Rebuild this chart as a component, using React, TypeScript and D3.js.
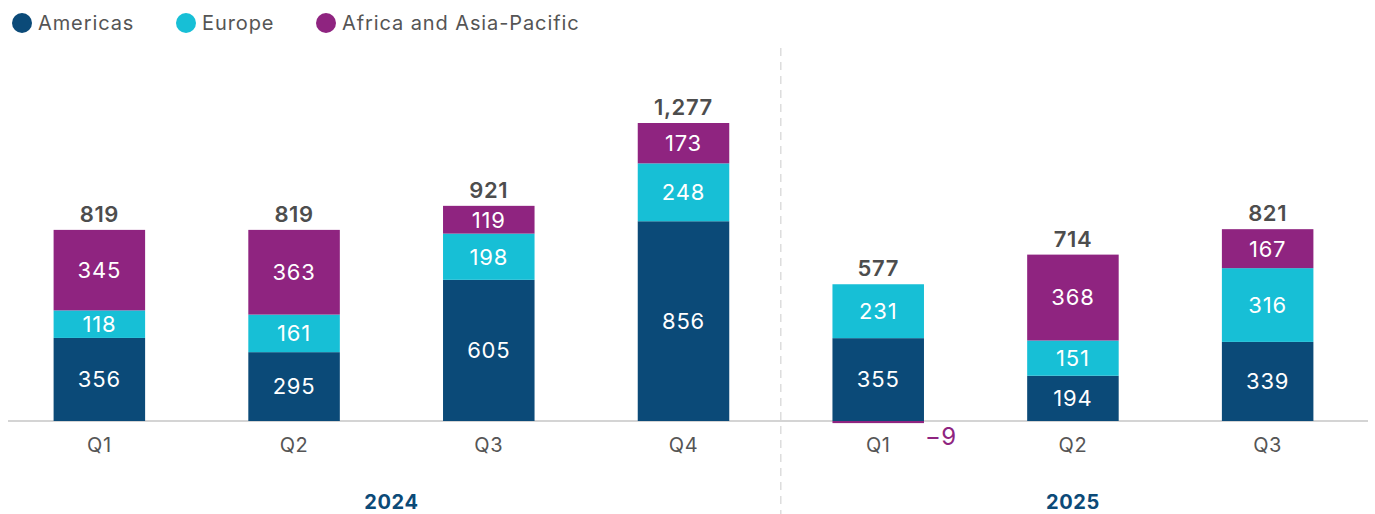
import React from 'react';
import * as d3 from 'd3';

// categories and series
const years = ['2024', '2024', '2024', '2024', '2025', '2025', '2025'];
const quarters = ['Q1', 'Q2', 'Q3', 'Q4', 'Q1', 'Q2', 'Q3'];
const americas = [356, 295, 605, 856, 355, 194, 339];
const europe = [118, 161, 198, 248, 231, 151, 316];
const africaAsiaPacific = [345, 363, 119, 173, -9, 368, 167];
// totals as printed (source values are unrounded)
const totalLabels = [819, 819, 921, 1277, 577, 714, 821];

const seriesNames = ['Americas', 'Europe', 'Africa and Asia-Pacific'];
const colors = ['#0b4a78', '#17bfd6', '#8f2480'];

const W = 1375;
const H = 514;
const FONT = 'Inter, "Open Sans", sans-serif';

const App = () => {
  const keys = quarters.map((q, i) => `${years[i]}-${q}`);
  const rows = keys.map((k, i) => ({
    key: k,
    Americas: americas[i],
    Europe: europe[i],
    'Africa and Asia-Pacific': africaAsiaPacific[i],
  }));

  const stack = d3
    .stack<any>()
    .keys(seriesNames)
    .offset(d3.stackOffsetDiverging);
  const layers = stack(rows);

  const x = d3.scaleBand().domain(keys).range([2, 1365]).paddingInner(0.53).paddingOuter(0.265);
  const y = d3.scaleLinear().domain([0, 1277]).range([421, 123]);

  const topOf = (i: number) => d3.max(layers, (l) => l[i][1]) as number;

  const yearGroups = d3.groups(keys.map((k, i) => ({ k, y: years[i] })), (d) => d.y);
  const step = x.step();
  const sepX = (x(keys[3])! + x(keys[4])! + x.bandwidth()) / 2;

  const legendX = [22, 186, 326];

  return (
    <svg width={W} height={H} style={{ position: 'absolute', left: 0, top: 0 }}>
      {/* legend */}
      {seriesNames.map((s, i) => (
        <g key={s}>
          <circle cx={legendX[i]} cy={23} r={10} fill={colors[i]} />
          <text
            x={legendX[i] + 16}
            y={30}
            fontFamily={FONT}
            fontSize={20}
            letterSpacing={0.9}
            fill="#555"
          >
            {s}
          </text>
        </g>
      ))}

      {/* year separator */}
      <line x1={sepX} x2={sepX} y1={48} y2={H} stroke="#ccc" strokeDasharray="8,6" strokeWidth={1} />

      {/* baseline */}
      <line x1={8} x2={1368} y1={y(0)} y2={y(0)} stroke="#d4d4d4" strokeWidth={2} />

      {/* bars */}
      {layers.map((layer, si) => (
        <g key={layer.key} fill={colors[si]}>
          {layer.map((d, i) => {
            const y0 = y(d[0]);
            const y1 = y(d[1]);
            const h = Math.abs(y0 - y1);
            return (
              <rect
                key={keys[i]}
                x={x(keys[i])}
                y={Math.min(y0, y1)}
                width={x.bandwidth()}
                height={Math.max(h, 2)}
              />
            );
          })}
        </g>
      ))}

      {/* segment labels */}
      {layers.map((layer, si) =>
        layer.map((d, i) => {
          const v = (d.data as any)[layer.key] as number;
          const cx = x(keys[i])! + x.bandwidth() / 2;
          if (v < 0) {
            return (
              <text
                key={`${layer.key}-${i}`}
                x={x(keys[i])! + x.bandwidth() + 1}
                y={y(d[0]) + 22}
                fontFamily={FONT}
                fontSize={24}
                letterSpacing={0.5}
                fill={colors[si]}
              >
                {'\u2212' + Math.abs(v)}
              </text>
            );
          }
          return (
            <text
              key={`${layer.key}-${i}`}
              x={cx}
              y={(y(d[0]) + y(d[1])) / 2}
              dy="0.36em"
              textAnchor="middle"
              fontFamily={FONT}
              fontSize={22}
              letterSpacing={0.8}
              fill="#fff"
            >
              {v}
            </text>
          );
        })
      )}

      {/* totals */}
      {totalLabels.map((t, i) => (
        <text
          key={`t-${i}`}
          x={x(keys[i])! + x.bandwidth() / 2}
          y={y(topOf(i)) - 8}
          textAnchor="middle"
          fontFamily={FONT}
          fontSize={22}
          fontWeight={600}
          letterSpacing={0.6}
          fill="#4d4d4d"
        >
          {d3.format(',')(t)}
        </text>
      ))}

      {/* quarter ticks */}
      {keys.map((k, i) => (
        <text
          key={`q-${k}`}
          x={x(k)! + x.bandwidth() / 2}
          y={452}
          textAnchor="middle"
          fontFamily={FONT}
          fontSize={20}
          letterSpacing={0.6}
          fill="#555"
        >
          {quarters[i]}
        </text>
      ))}

      {/* year labels */}
      {yearGroups.map(([yr, items]) => {
        const first = x(items[0].k)! - (step - x.bandwidth()) / 2;
        const last = x(items[items.length - 1].k)! + x.bandwidth() + (step - x.bandwidth()) / 2;
        return (
          <text
            key={yr}
            x={(first + last) / 2}
            y={509}
            textAnchor="middle"
            fontFamily={FONT}
            fontSize={20}
            fontWeight={700}
            letterSpacing={0.6}
            fill="#0b4a78"
          >
            {yr}
          </text>
        );
      })}
    </svg>
  );
};

export default App;
